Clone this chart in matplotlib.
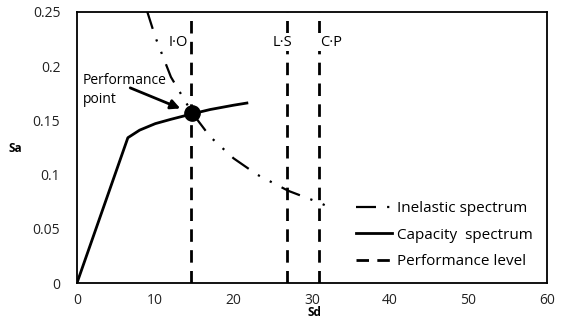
import numpy as np
import matplotlib
matplotlib.use("Agg")
from matplotlib import pyplot as plt

plt.rcParams['font.family'] = ['Open Sans', 'DejaVu Sans']

# capacity spectrum (Sd, Sa)
cap_sd = [0, 6.5, 8.0, 10.0, 12.0, 14.7, 17.0, 20.0, 21.7]
cap_sa = [0, 0.134, 0.141, 0.147, 0.151, 0.156, 0.160, 0.164, 0.166]

# inelastic demand spectrum
ine_sd = [8.9, 10.0, 12.0, 14.7, 17.0, 20.0, 23.0, 27.0, 31.0, 32.5]
ine_sa = [0.252, 0.227, 0.190, 0.157, 0.135, 0.115, 0.100, 0.085, 0.074, 0.069]

# performance levels
level_sd = [14.5, 26.8, 30.9]
level_names = ["I·O", "L·S", "C·P"]
label_sd = [13.0, 26.2, 32.4]

perf_sd, perf_sa = 14.7, 0.157

fig = plt.figure(figsize=(5.66, 3.2), dpi=100)
ax = fig.add_axes([0.136, 0.1156, 0.830, 0.847])

ax.plot(ine_sd, ine_sa, color='black', lw=1.6, linestyle=(0, (9, 5, 1, 5, 1, 5)),
        label="Inelastic spectrum")
ax.plot(cap_sd, cap_sa, color='black', lw=2, label="Capacity  spectrum")
for i, x in enumerate(level_sd):
    ax.plot([x, x], [0, 0.25], color='black', lw=2, linestyle=(0, (4.5, 3)),
            label="Performance level" if i == 0 else None)

ax.plot(perf_sd, perf_sa, 'o', color='black', markersize=11, zorder=5)

for name, x in zip(level_names, label_sd):
    ax.text(x, 0.222, name, fontsize=10.5, ha='center', va='center',
            bbox=dict(facecolor='white', edgecolor='none', pad=1))

ax.text(0.7, 0.178, "Performance\npoint", fontsize=10, ha='left', va='center',
        linespacing=1.3, bbox=dict(facecolor='white', edgecolor='none', pad=0.5))
ax.annotate("", xy=(13.2, 0.161), xytext=(6.8, 0.180),
            arrowprops=dict(arrowstyle='-|>', color='black', lw=2, mutation_scale=14,
                            shrinkA=0, shrinkB=0))

ax.set_xlim(0, 60)
ax.set_ylim(0, 0.25)
ax.set_xticks([0, 10, 20, 30, 40, 50, 60])
ax.set_yticks([0, 0.05, 0.1, 0.15, 0.2, 0.25])
ax.set_yticklabels(["0", "0.05", "0.1", "0.15", "0.2", "0.25"])
ax.tick_params(length=0, labelsize=10, colors='#222222')
ax.tick_params(axis='y', pad=12)
ax.tick_params(axis='x', pad=7)
for s in ax.spines.values():
    s.set_linewidth(1.3)

fig.text(0.027, 0.535, "Sa", fontsize=8.5, fontweight='bold', ha='center', va='center')
fig.text(0.555, 0.022, "Sd", fontsize=8.5, fontweight='bold', ha='center', va='center')

ax.legend(loc='lower right', bbox_to_anchor=(0.993, 0.012), frameon=False, fontsize=11,
          handlelength=2.4, handletextpad=0.3, labelspacing=0.75, borderaxespad=0.3)

plt.savefig("out.png", dpi=100)
